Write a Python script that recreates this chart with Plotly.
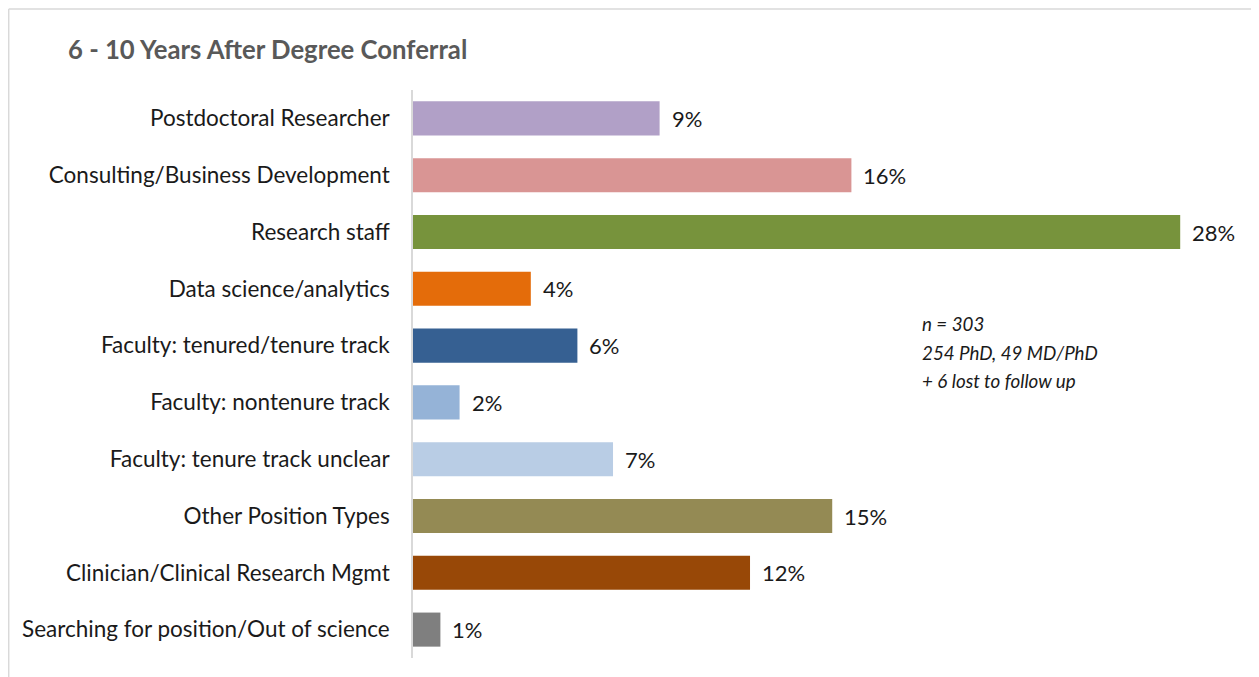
import plotly.graph_objects as go

categories = [
    "Postdoctoral Researcher",
    "Consulting/Business Development",
    "Research staff",
    "Data science/analytics",
    "Faculty: tenured/tenure track",
    "Faculty: nontenure track",
    "Faculty: tenure track unclear",
    "Other Position Types",
    "Clinician/Clinical Research Mgmt",
    "Searching for position/Out of science",
]
values = [9.0, 16.0, 28.0, 4.3, 6.0, 1.7, 7.3, 15.3, 12.3, 1.0]
value_labels = ["9%", "16%", "28%", "4%", "6%", "2%", "7%", "15%", "12%", "1%"]
colors = ["#B1A0C7", "#D99594", "#77933C", "#E46C0A", "#366092",
          "#95B3D7", "#B9CDE5", "#948A54", "#984807", "#7F7F7F"]
title_text = "6 - 10 Years After Degree Conferral"
note_lines = ["n = 303", "254 PhD, 49 MD/PhD", "+ 6 lost to follow up"]

FONT = "Lato"
OFF = 8  # page body margin
W, H = 1259 - OFF, 677 - OFF
L, T = 413 - OFF, 90 - OFF
PB = 658 - OFF  # plot bottom in figure px
B = H - PB
pw = 822
R = W - L - pw
ph = PB - T


def px_x(x):
    return (x - OFF - L) / pw


def px_y(y):
    return (PB - (y - OFF)) / ph


fig = go.Figure()
fig.add_trace(go.Bar(
    x=values, y=categories, orientation="h",
    marker=dict(color=colors, line=dict(width=0)),
    width=0.6, hoverinfo="x+y",
))

for v, c, lab in zip(values, categories, value_labels):
    fig.add_annotation(x=v, y=c, xref="x", yref="y", text=lab, showarrow=False,
                       xanchor="left", xshift=10,
                       font=dict(family=FONT, size=22, color="#1a1a1a"))

for i, line in enumerate(note_lines):
    fig.add_annotation(xref="paper", yref="paper",
                       x=px_x(920), y=px_y(323 + 29 * i),
                       text="<i>" + line + "</i>", showarrow=False,
                       xanchor="left", yanchor="middle",
                       font=dict(family=FONT, size=18.8, color="#1a1a1a"))

frame = "#d9d9d9"
fig.add_shape(type="line", xref="paper", yref="paper",
              x0=px_x(8.7), x1=px_x(1262), y0=px_y(9), y1=px_y(9),
              line=dict(color=frame, width=1.5))
fig.add_shape(type="line", xref="paper", yref="paper",
              x0=px_x(8.7), x1=px_x(8.7), y0=px_y(9), y1=px_y(680),
              line=dict(color=frame, width=1.5))

fig.update_layout(
    width=W, height=H,
    margin=dict(l=L, r=R, t=T, b=B),
    paper_bgcolor="white", plot_bgcolor="white",
    showlegend=False,
    title=dict(text="<b>" + title_text + "</b>", xref="container", yref="container",
               x=(68 - OFF) / W, xanchor="left", y=1 - (50 - OFF) / H, yanchor="middle",
               font=dict(family=FONT, size=25.7, color="#595959")),
    xaxis=dict(range=[0, 30], showgrid=False, zeroline=False, showticklabels=False,
               showline=False, fixedrange=True),
    yaxis=dict(autorange="reversed", showgrid=False, zeroline=False,
               showline=True, linecolor="#d9d9d9", linewidth=1.5,
               ticks="", ticklabelstandoff=17,
               tickfont=dict(family=FONT, size=22.5, color="#1a1a1a")),
    bargap=0.4,
)

fig.write_html("out.html")
